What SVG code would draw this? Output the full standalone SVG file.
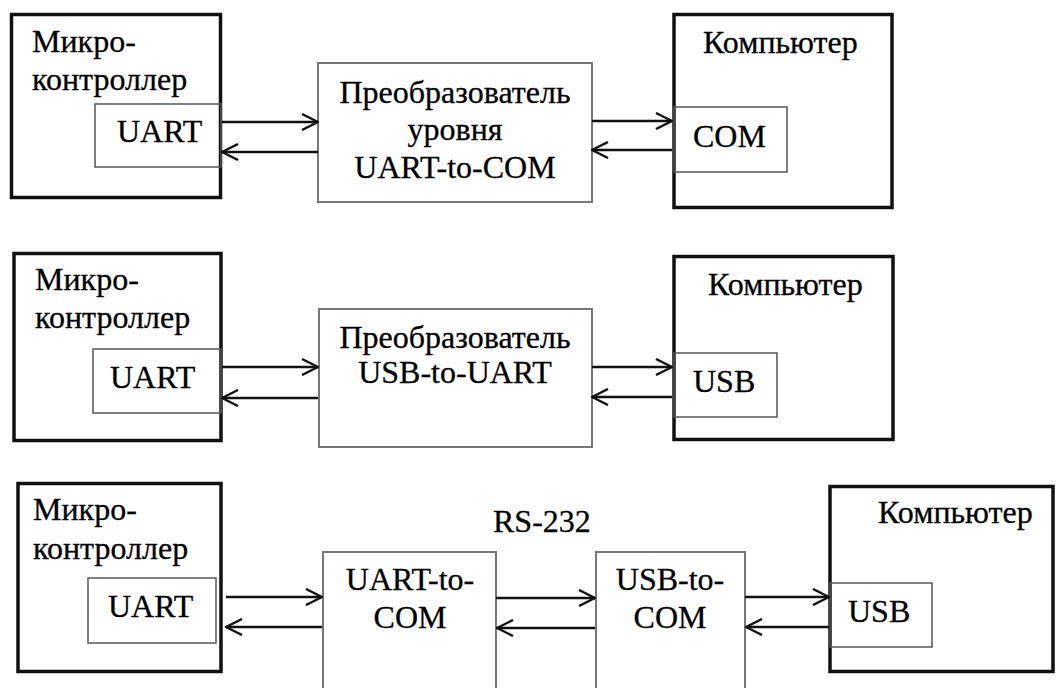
<svg xmlns="http://www.w3.org/2000/svg" width="1056" height="688" viewBox="0 0 1056 688">
<defs>
<style>
.outer{fill:none;stroke:#111;stroke-width:3.5}
.inner{fill:none;stroke:#555;stroke-width:1.5}
.conv{fill:none;stroke:#777;stroke-width:2}
.t{font-family:"Liberation Serif","Times New Roman",serif;font-size:32px;fill:#000;stroke:#000;stroke-width:0.3}
.m{text-anchor:middle}
.c{stroke:#111;stroke-width:2.4;fill:none;marker-end:url(#ah)}
</style>
<marker id="ah" viewBox="0 0 18 18" refX="17" refY="9" markerWidth="18" markerHeight="18" markerUnits="userSpaceOnUse" orient="auto">
<path d="M1,1 L17,9 L1,17" fill="none" stroke="#111" stroke-width="2.4"/>
</marker>
</defs>
<rect width="1056" height="688" fill="#fff"/>

<g id="micro1">
<rect class="outer" x="11.5" y="14.5" width="209" height="183"/>
<text class="t" x="32" y="52">Микро-</text>
<text class="t" x="32" y="90">контроллер</text>
</g>
<g id="uart1">
<rect class="inner" x="95" y="104" width="126" height="63"/>
<text class="t" x="117" y="142">UART</text>
</g>
<g id="conv1">
<rect class="conv" x="318" y="63" width="274" height="139"/>
<text class="t m" x="455" y="103">Преобразователь</text>
<text class="t m" x="455" y="140">уровня</text>
<text class="t m" x="455" y="178">UART-to-COM</text>
</g>
<g id="comp1">
<rect class="outer" x="674" y="14.5" width="218" height="193"/>
<text class="t" x="703" y="53">Компьютер</text>
</g>
<g id="com1">
<rect class="inner" x="674" y="107" width="113" height="65"/>
<text class="t" x="693" y="147">COM</text>
</g>

<g id="micro2">
<rect class="outer" x="14" y="253.5" width="207" height="187"/>
<text class="t" x="35" y="290">Микро-</text>
<text class="t" x="35" y="328">контроллер</text>
</g>
<g id="uart2">
<rect class="inner" x="93" y="349" width="128" height="64"/>
<text class="t" x="110" y="388">UART</text>
</g>
<g id="conv2">
<rect class="conv" x="319" y="309" width="273" height="138"/>
<text class="t m" x="455" y="348">Преобразователь</text>
<text class="t m" x="455" y="383">USB-to-UART</text>
</g>
<g id="comp2">
<rect class="outer" x="674" y="256.5" width="219" height="183"/>
<text class="t" x="708" y="295">Компьютер</text>
</g>
<g id="usb2">
<rect class="inner" x="674" y="353" width="103" height="64"/>
<text class="t" x="693" y="392">USB</text>
</g>

<g id="micro3">
<rect class="outer" x="18" y="483.5" width="203" height="188"/>
<text class="t" x="33" y="520">Микро-</text>
<text class="t" x="33" y="559">контроллер</text>
</g>
<g id="uart3">
<rect class="inner" x="88" y="578" width="128" height="65"/>
<text class="t" x="108" y="617">UART</text>
</g>
<g id="conv3a">
<rect class="conv" x="323" y="552" width="173" height="140"/>
<text class="t m" x="410" y="590">UART-to-</text>
<text class="t m" x="410" y="628">COM</text>
</g>
<g id="conv3b">
<rect class="conv" x="596" y="552" width="149" height="140"/>
<text class="t m" x="670" y="590">USB-to-</text>
<text class="t m" x="670" y="628">COM</text>
</g>
<g id="rs232">
<text class="t" x="493" y="532">RS-232</text>
</g>
<g id="comp3">
<rect class="outer" x="830" y="486.5" width="223" height="185"/>
<text class="t" x="878" y="523">Компьютер</text>
</g>
<g id="usb3">
<rect class="inner" x="830" y="583" width="102" height="64"/>
<text class="t" x="848" y="622">USB</text>
</g>

<g id="connectors">
<line class="c" x1="222" y1="122" x2="318" y2="122"/>
<line class="c" x1="318" y1="152" x2="222" y2="152"/>
<line class="c" x1="592" y1="121" x2="672" y2="121"/>
<line class="c" x1="672" y1="150" x2="592" y2="150"/>
<line class="c" x1="222" y1="367" x2="318" y2="367"/>
<line class="c" x1="318" y1="398" x2="222" y2="398"/>
<line class="c" x1="592" y1="367" x2="672" y2="367"/>
<line class="c" x1="672" y1="397" x2="592" y2="397"/>
<line class="c" x1="226" y1="597" x2="322" y2="597"/>
<line class="c" x1="322" y1="627" x2="226" y2="627"/>
<line class="c" x1="496" y1="598" x2="595" y2="598"/>
<line class="c" x1="595" y1="628" x2="497" y2="628"/>
<line class="c" x1="745" y1="597" x2="829" y2="597"/>
<line class="c" x1="829" y1="627" x2="746" y2="627"/>
</g>
</svg>
